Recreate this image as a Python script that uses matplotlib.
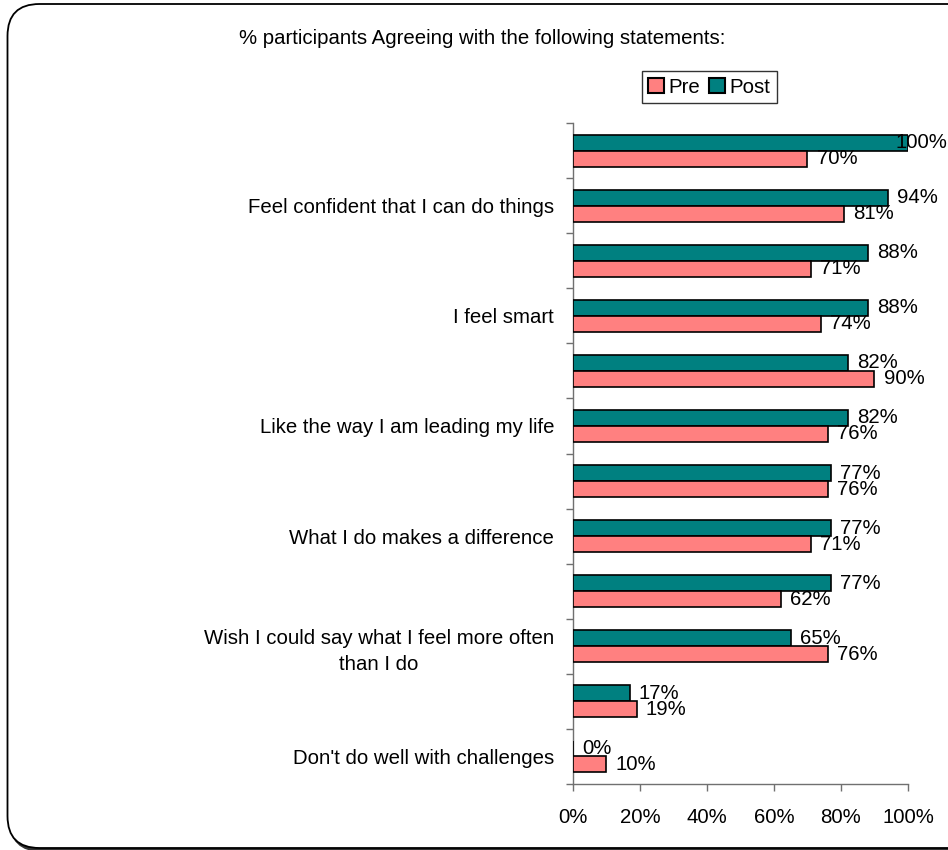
import matplotlib
matplotlib.use("Agg")
import matplotlib.pyplot as plt
import numpy as np
from matplotlib.patches import FancyBboxPatch, Patch
from matplotlib.transforms import IdentityTransform

plt.rcParams['font.family'] = ['Liberation Sans', 'DejaVu Sans']

# Statements, top to bottom (alternate labels are left blank as in the chart)
categories = [
    "",
    "Feel confident that I can do things",
    "",
    "I feel smart",
    "",
    "Like the way I am leading my life",
    "",
    "What I do makes a difference",
    "",
    "Wish I could say what I feel more often\nthan I do",
    "",
    "Don't do well with challenges",
]
post_values = [100, 94, 88, 88, 82, 82, 77, 77, 77, 65, 17, 0]
pre_values = [70, 81, 71, 74, 90, 76, 76, 71, 62, 76, 19, 10]
x_ticks = [0, 20, 40, 60, 80, 100]
x_tick_labels = ["0%", "20%", "40%", "60%", "80%", "100%"]

PRE_COLOR = "#FF8080"
POST_COLOR = "#008080"
FS = 14.7

fig = plt.figure(figsize=(9.48, 8.5), dpi=100)

# Rounded chart-area frame with a soft shadow
shadow = FancyBboxPatch((10, -1), 1000, 844,
                        boxstyle="round,pad=0,rounding_size=32",
                        transform=IdentityTransform(), facecolor="#333333",
                        edgecolor="#333333", linewidth=1.5, zorder=-2)
frame = FancyBboxPatch((7.5, 2), 1000, 844,
                       boxstyle="round,pad=0,rounding_size=32",
                       transform=IdentityTransform(), facecolor="white",
                       edgecolor="black", linewidth=1.3, zorder=-1)
fig.patches.extend([shadow, frame])

ax = fig.add_axes([0.6044, 0.0776, 0.9578 - 0.6044, 0.8553 - 0.0776])
ax.set_facecolor("none")

n = len(categories)
y = np.arange(n)
h = 0.29

ax.barh(y - h / 2, post_values, height=h, color=POST_COLOR,
        edgecolor="black", linewidth=1.2, zorder=3, label="Post")
ax.barh(y + h / 2, pre_values, height=h, color=PRE_COLOR,
        edgecolor="black", linewidth=1.2, zorder=3, label="Pre")

for yi, v in zip(y - h / 2, post_values):
    if v >= 100:
        # full-length bar: keep the label inside the chart area
        ax.annotate(f"{v}%", (v, yi), xytext=(28.5, 0), textcoords="offset points",
                    ha="right", va="center", fontsize=FS, zorder=4,
                    annotation_clip=False)
    else:
        ax.annotate(f"{v}%", (v, yi), xytext=(6.5, 0), textcoords="offset points",
                    ha="left", va="center", fontsize=FS, zorder=4)
for yi, v in zip(y + h / 2, pre_values):
    ax.annotate(f"{v}%", (v, yi), xytext=(6.5, 0), textcoords="offset points",
                ha="left", va="center", fontsize=FS, zorder=4)

ax.set_xlim(0, 100)
ax.set_ylim(n - 0.5, -0.5)

ax.set_xticks(x_ticks)
ax.set_xticklabels(x_tick_labels, fontsize=FS)
ax.set_yticks(np.arange(-0.5, n, 1.0))
ax.set_yticklabels([])
ax.set_yticks(y, minor=True)
ax.set_yticklabels(categories, minor=True, fontsize=FS,
                   multialignment="center", linespacing=1.45)
ax.tick_params(axis="y", which="minor", length=0, pad=13.5)
ax.tick_params(axis="y", which="major", length=5, color="#707070", width=1)
ax.tick_params(axis="x", which="major", length=5, color="#707070", width=1, pad=12.5)

for side in ("top", "right"):
    ax.spines[side].set_visible(False)
for side in ("left", "bottom"):
    ax.spines[side].set_color("#707070")
    ax.spines[side].set_linewidth(1)

fig.text(0.5085, 0.955, "% participants Agreeing with the following statements:",
         ha="center", va="center", fontsize=FS)

handles = [Patch(facecolor=PRE_COLOR, edgecolor="black", linewidth=1.5),
           Patch(facecolor=POST_COLOR, edgecolor="black", linewidth=1.5)]
leg = fig.legend(handles, ["Pre", "Post"], loc="center",
                 bbox_to_anchor=(0.748, 0.8976), ncol=2, fontsize=FS,
                 frameon=True, fancybox=False, handlelength=0.8,
                 handleheight=0.8, handletextpad=0.2, columnspacing=0.45,
                 borderpad=0.3, borderaxespad=0)
leg.get_frame().set_edgecolor("black")
leg.get_frame().set_linewidth(1)

fig.savefig("out.png", dpi=100)
